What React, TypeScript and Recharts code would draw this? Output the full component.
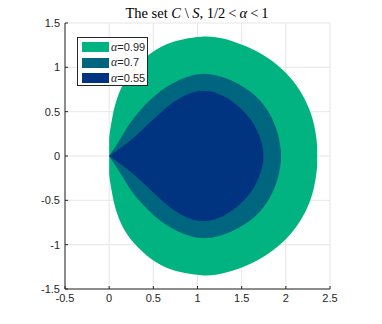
import { ComposedChart, Area, XAxis, YAxis, CartesianGrid } from 'recharts';

// upper half-heights of each region (regions are symmetric about y = 0)
const greenX = [0, 0.01, 0.03, 0.05, 0.1, 0.18, 0.3, 0.46, 0.65, 0.84, 1.05, 1.2, 1.4, 1.67, 1.9, 2.08, 2.2, 2.28, 2.32, 2.345, 2.355];
const greenH = [0.2, 0.3, 0.4, 0.52, 0.69, 0.86, 1.01, 1.16, 1.27, 1.32, 1.35, 1.345, 1.3, 1.19, 1.04, 0.86, 0.68, 0.5, 0.36, 0.22, 0.1];

const tealX = [0, 0.12, 0.23, 0.35, 0.5, 0.65, 0.84, 1.03, 1.25, 1.48, 1.67, 1.82, 1.91, 1.935, 1.945];
const tealH = [0, 0.18, 0.37, 0.52, 0.67, 0.785, 0.885, 0.94, 0.91, 0.81, 0.68, 0.49, 0.27, 0.13, 0.06];

const blueX = [0, 0.2, 0.37, 0.57, 0.72, 0.88, 1.05, 1.25, 1.44, 1.59, 1.69, 1.735, 1.745];
const blueH = [0, 0.14, 0.29, 0.48, 0.61, 0.7, 0.75, 0.71, 0.59, 0.44, 0.27, 0.12, 0.06];

const xTicks = [-0.5, 0, 0.5, 1, 1.5, 2, 2.5];
const yTicks = [-1.5, -1, -0.5, 0, 0.5, 1, 1.5];

const legendLabels = ['0.99', '0.7', '0.55'];
const colors = ['#00b380', '#006680', '#003380'];

const toRows = (xs: number[], hs: number[]) => xs.map((x, i) => ({ x, band: [-hs[i], hs[i]] }));

const series = [toRows(greenX, greenH), toRows(tealX, tealH), toRows(blueX, blueH)];

const axisColor = '#262626';
const tickFont = { fill: axisColor, fontSize: 11, fontFamily: 'Liberation Sans, Arial, sans-serif' };
const rel = { margin: '0 3px' };

export default function App() {
  return (
    <div style={{ position: 'absolute', left: 0, top: 0, width: 382, height: 324, background: '#fff' }}>
      <div
        style={{
          position: 'absolute',
          left: 65,
          width: 264,
          top: 5,
          textAlign: 'center',
          fontFamily: 'Liberation Serif, Times New Roman, serif',
          fontSize: 14.5,
          color: '#000',
          whiteSpace: 'nowrap',
        }}
      >
        The set <i>C</i> \ <i>S</i>, 1/2<span style={rel}>&lt;</span><i>α</i><span style={rel}>&lt;</span>1
      </div>
      <ComposedChart width={382} height={324} margin={{ top: 23, right: 52, bottom: 0, left: 0 }}>
        <CartesianGrid stroke="#e6e6e6" />
        <XAxis
          type="number"
          dataKey="x"
          domain={[-0.5, 2.5]}
          ticks={xTicks}
          allowDataOverflow
          height={35}
          tick={tickFont}
          tickSize={-3}
          tickMargin={8}
          stroke={axisColor}
        />
        <YAxis
          type="number"
          domain={[-1.5, 1.5]}
          ticks={yTicks}
          allowDataOverflow
          width={65}
          tick={tickFont}
          tickSize={-3}
          tickMargin={8}
          stroke={axisColor}
        />
        {series.map((rows, i) => (
          <Area
            key={legendLabels[i]}
            data={rows}
            dataKey="band"
            type="basis"
            fill={colors[i]}
            fillOpacity={1}
            stroke="none"
            isAnimationActive={false}
          />
        ))}
      </ComposedChart>
      <div
        style={{
          position: 'absolute',
          left: 77,
          top: 37,
          width: 71,
          height: 49,
          border: '1px solid #262626',
          background: '#fff',
          boxSizing: 'border-box',
          fontFamily: 'Liberation Sans, Arial, sans-serif',
          fontSize: 11,
          color: '#262626',
        }}
      >
        {legendLabels.map((lab, i) => (
          <div key={lab} style={{ position: 'absolute', left: 4, top: 3 + i * 15.5, height: 12, display: 'flex', alignItems: 'center' }}>
            <div style={{ width: 27, height: 10, background: colors[i] }} />
            <span style={{ marginLeft: 2, whiteSpace: 'nowrap' }}>
              <i style={{ fontFamily: 'Liberation Serif, serif', fontSize: 12 }}>α</i>=
              {lab}
            </span>
          </div>
        ))}
      </div>
    </div>
  );
}
